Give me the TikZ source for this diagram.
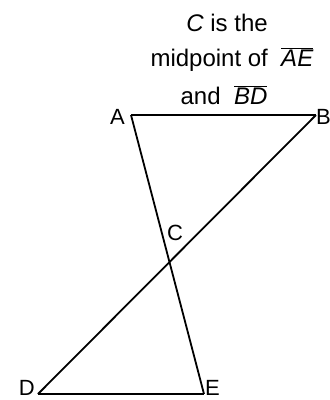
\documentclass[tikz,border=0pt]{standalone}
\usepackage{fontspec}
\setmainfont{Liberation Sans}
\begin{document}
\begin{tikzpicture}[x=1pt,y=-1pt,
  seg/.style={line width=1.8pt,line join=miter},
  lbl/.style={font=\fontsize{22}{26}\selectfont,inner sep=0pt},
  txt/.style={font=\fontsize{24}{28}\selectfont,inner sep=0pt,anchor=base}]
\useasboundingbox (0,0) rectangle (330,400);
\coordinate (A) at (131,115);
\coordinate (B) at (316,115);
\coordinate (D) at (38,394);
\coordinate (E) at (204,394);
\draw[seg] (A) -- (B);
\draw[seg] (A) -- (E);
\draw[seg] (B) -- (D);
\draw[seg] (D) -- (E);
\node[lbl,anchor=east] (la) at (125,117) {A};
\node[lbl,anchor=west] (lb) at (316,117) {B};
\node[lbl,anchor=east] (ld) at (35,388) {D};
\node[lbl,anchor=west] (le) at (205,388) {E};
\node[lbl] (lc) at (175,233) {C};
\node[txt] (t1) at (227,31) {\textit{C} is the};
\node[txt] (t2) at (232,66) {midpoint of \ $\overline{\mbox{\textit{AE}}}$};
\node[txt] (t3) at (224,104) {and \ $\overline{\mbox{\textit{BD}}}$};
\end{tikzpicture}
\end{document}
